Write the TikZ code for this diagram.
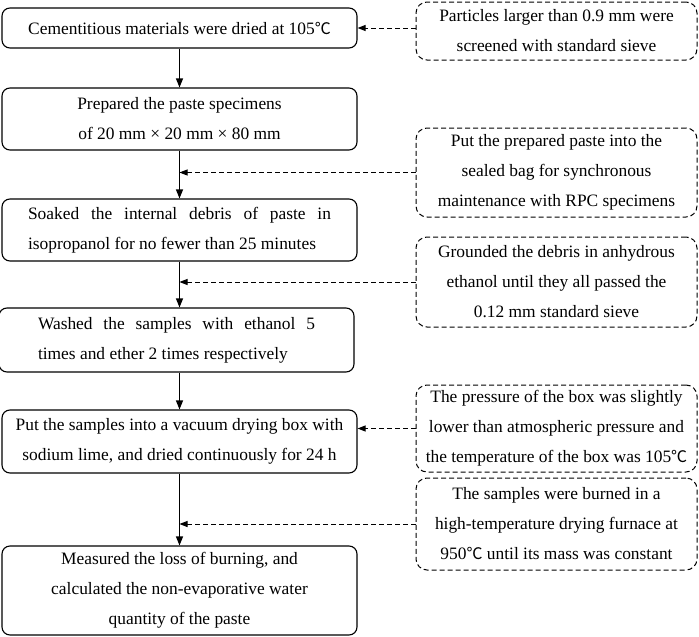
\documentclass[tikz,border=0pt]{standalone}
\usepackage{fontspec}
\setmainfont{Liberation Serif}
\newfontfamily\cjk{Noto Sans CJK SC}[Scale=0.92]
\usetikzlibrary{arrows.meta}
\newcommand{\celsius}{{\cjk ℃}}
\begin{document}
\begin{tikzpicture}[x=1pt,y=-1pt,
    font=\fontsize{17.4}{30}\selectfont,
    stepbox/.style={draw,line width=1.1pt,rounded corners=8pt,minimum width=355pt,inner sep=0pt},
    notebox/.style={draw,line width=1pt,dash pattern=on 5pt off 3pt,rounded corners=11pt,minimum width=281pt,inner sep=0pt,align=center},
    flow/.style={-{Triangle[length=9pt,width=7pt]},line width=1.1pt},
    side/.style={-{Triangle[length=8pt,width=6pt]},line width=1pt,dash pattern=on 5pt off 3pt}]
    \useasboundingbox (0,0) rectangle (699,637);
    % steps
    \node [stepbox,minimum height=40pt,align=center] (dry) at (179.5,28) {Cementitious materials were dried at 105\celsius};
    \node [stepbox,minimum height=62pt,align=center] (paste) at (179.5,119) {Prepared the paste specimens\\of 20 mm × 20 mm × 80 mm};
    \node [stepbox,minimum height=62pt,text width=303pt,align=justify] (soak) at (179.5,230) {Soaked the internal debris of paste in\linebreak isopropanol for no fewer than 25 minutes};
    \node [stepbox,minimum height=64pt,text width=277pt,align=justify] (wash) at (176.5,340) {Washed the samples with ethanol 5\linebreak times and ether 2 times respectively};
    \node [stepbox,minimum height=63pt,align=center] (vac) at (179.5,441.5) {Put the samples into a vacuum drying box with\\sodium lime, and dried continuously for 24 h};
    \node [stepbox,minimum height=89pt,align=center] (burn) at (179.5,590.5) {Measured the loss of burning, and\\calculated the non-evaporative water\\quantity of the paste};
    % notes
    \node [notebox,minimum height=58pt] (sieve) at (556.5,31) {Particles larger than 0.9 mm were\\screened with standard sieve};
    \node [notebox,minimum height=89pt] (bag) at (556.5,172.5) {Put the prepared paste into the\\sealed bag for synchronous\\maintenance with RPC specimens};
    \node [notebox,minimum height=90pt] (grind) at (556.5,282) {Grounded the debris in anhydrous\\ethanol until they all passed the\\0.12 mm standard sieve};
    \node [notebox,minimum height=87pt] (press) at (556.5,428.5) {The pressure of the box was slightly\\lower than atmospheric pressure and\\the temperature of the box was 105\celsius};
    \node [notebox,minimum height=92pt] (furn) at (556.5,524) {The samples were burned in a\\high-temperature drying furnace at\\950\celsius\ until its mass was constant};
    % arrows
    \draw [flow] (dry) -- (paste);
    \draw [flow] (paste.south) -- (paste.south |- soak.north);
    \draw [flow] (soak.south) -- (soak.south |- wash.north);
    \draw [flow] (wash.south -| vac.north) -- (vac.north);
    \draw [flow] (vac) -- (burn);
    \draw [side] (dry.east -| sieve.west) -- (dry.east);
    \draw [side] (bag.west) -- (bag.west -| paste.south);
    \draw [side] (grind.west) -- (grind.west -| soak.south);
    \draw [side] (press.west) -- (press.west -| vac.east);
    \draw [side] (furn.west) -- (furn.west -| vac.south);
\end{tikzpicture}
\end{document}
